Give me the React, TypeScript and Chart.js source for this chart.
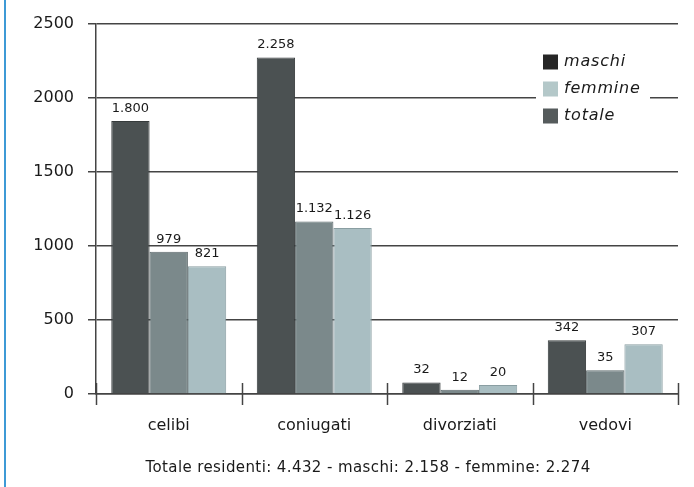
import React, { useEffect, useRef } from "react";
import { Chart, registerables } from "chart.js";

Chart.register(...registerables);

const categories = ["celibi", "coniugati", "divorziati", "vedovi"];
// bar heights as drawn in the picture
const totaleValues = [1843, 2272, 78, 363];
const maschiValues = [960, 1165, 28, 161];
const femmineValues = [862, 1121, 60, 336];
// printed labels above the bars
const totaleLabels = ["1.800", "2.258", "32", "342"];
const maschiLabels = ["979", "1.132", "12", "35"];
const femmineLabels = ["821", "1.126", "20", "307"];
const yTickValues = [0, 500, 1000, 1500, 2000, 2500];
const legendNames = ["maschi", "femmine", "totale"];
const footerText = "Totale residenti: 4.432 - maschi: 2.158 - femmine: 2.274";

const FONT = "'DejaVu Sans', sans-serif";
const TEXT = "#1a1a1a";
const LINE = "#444444";

const legendColors = ["#262626", "#b4c8c9", "#555b5c"];

const decorPlugin = {
  id: "decor",
  beforeDraw(chart: any) {
    const ctx = chart.ctx;
    ctx.save();
    ctx.fillStyle = "#ffffff";
    ctx.fillRect(0, 0, chart.width, chart.height);
    ctx.fillStyle = "#3d9ad6";
    ctx.fillRect(4, 0, 2, chart.height);
    ctx.restore();
  },
  afterDatasetsDraw(chart: any) {
    const ctx = chart.ctx;
    const area = chart.chartArea;
    const xs = chart.scales.x;
    // category boundary ticks
    ctx.save();
    ctx.strokeStyle = LINE;
    ctx.lineWidth = 1.5;
    for (let i = 0; i <= categories.length; i++) {
      const px = Math.round(xs.getPixelForValue(i - 0.5)) + 0.5;
      ctx.beginPath();
      ctx.moveTo(px, area.bottom - 11);
      ctx.lineTo(px, area.bottom + 11);
      ctx.stroke();
    }
    ctx.restore();

    // value labels
    const labelSets = [totaleLabels, maschiLabels, femmineLabels];
    ctx.save();
    ctx.font = `13px ${FONT}`;
    ctx.fillStyle = TEXT;
    ctx.textAlign = "center";
    ctx.textBaseline = "bottom";
    chart.data.datasets.forEach((_: any, di: number) => {
      const meta = chart.getDatasetMeta(di);
      meta.data.forEach((bar: any, i: number) => {
        ctx.fillText(labelSets[di][i], bar.x, bar.y - 6);
      });
    });
    ctx.restore();

    // legend
    const lx = 543;
    const centers = [62, 89, 116];
    ctx.save();
    ctx.fillStyle = "#ffffff";
    ctx.fillRect(536, 48, 114, 80);
    ctx.font = `italic 16px ${FONT}`;
    (ctx as any).letterSpacing = "0.8px";
    ctx.textAlign = "left";
    ctx.textBaseline = "middle";
    legendNames.forEach((name, i) => {
      ctx.fillStyle = legendColors[i];
      ctx.fillRect(lx, centers[i] - 7.5, 15, 15);
      ctx.fillStyle = TEXT;
      ctx.fillText(name, lx + 21, centers[i]);
    });
    ctx.restore();

    // footer
    ctx.save();
    ctx.font = `15px ${FONT}`;
    (ctx as any).letterSpacing = "0.4px";
    ctx.fillStyle = TEXT;
    ctx.textAlign = "center";
    ctx.textBaseline = "middle";
    ctx.fillText(footerText, 368, 468);
    ctx.restore();
  },
};

export default function App() {
  const ref = useRef<HTMLCanvasElement | null>(null);

  useEffect(() => {
    if (!ref.current) return;
    const chart = new Chart(ref.current, {
      type: "bar",
      data: {
        labels: categories,
        datasets: [
          {
            label: "totale",
            data: totaleValues,
            backgroundColor: "#4b5152",
            borderColor: "#363b3c",
            borderWidth: 1,
          },
          {
            label: "maschi",
            data: maschiValues,
            backgroundColor: "#7b898b",
            borderColor: "#5d6a6c",
            borderWidth: 1,
          },
          {
            label: "femmine",
            data: femmineValues,
            backgroundColor: "#a9bec2",
            borderColor: "#8a9ea2",
            borderWidth: 1,
          },
        ],
      },
      options: {
        responsive: false,
        animation: false,
        devicePixelRatio: 1,
        layout: { padding: { left: 0, top: 23, right: 16, bottom: 0 } },
        plugins: {
          legend: { display: false },
          tooltip: { enabled: false },
          title: { display: false },
        },
        datasets: {
          bar: { categoryPercentage: 0.79, barPercentage: 1 },
        },
        scales: {
          x: {
            offset: true,
            grid: { display: false },
            border: { display: true, color: LINE, width: 1.5 },
            ticks: {
              color: TEXT,
              font: { family: FONT, size: 16 },
              padding: 14,
            },
            afterFit(scale: any) {
              scale.height = 93;
            },
          },
          y: {
            min: 0,
            max: 2500,
            afterBuildTicks(scale: any) {
              scale.ticks = yTickValues.map((v) => ({ value: v }));
            },
            grid: {
              color: LINE,
              lineWidth: 1.5,
              tickLength: 8,
            },
            border: { display: true, color: LINE, width: 1.5 },
            ticks: {
              color: TEXT,
              font: { family: FONT, size: 16 },
              padding: 14,
              callback: (v: any) => String(v),
            },
            afterFit(scale: any) {
              scale.width = 96;
            },
          },
        },
      } as any,
      plugins: [decorPlugin],
    });
    return () => chart.destroy();
  }, []);

  return (
    <div style={{ position: "absolute", left: 0, top: 0, width: 694, height: 487, background: "#fff" }}>
      <canvas ref={ref} width={694} height={487} style={{ display: "block" }} />
    </div>
  );
}
